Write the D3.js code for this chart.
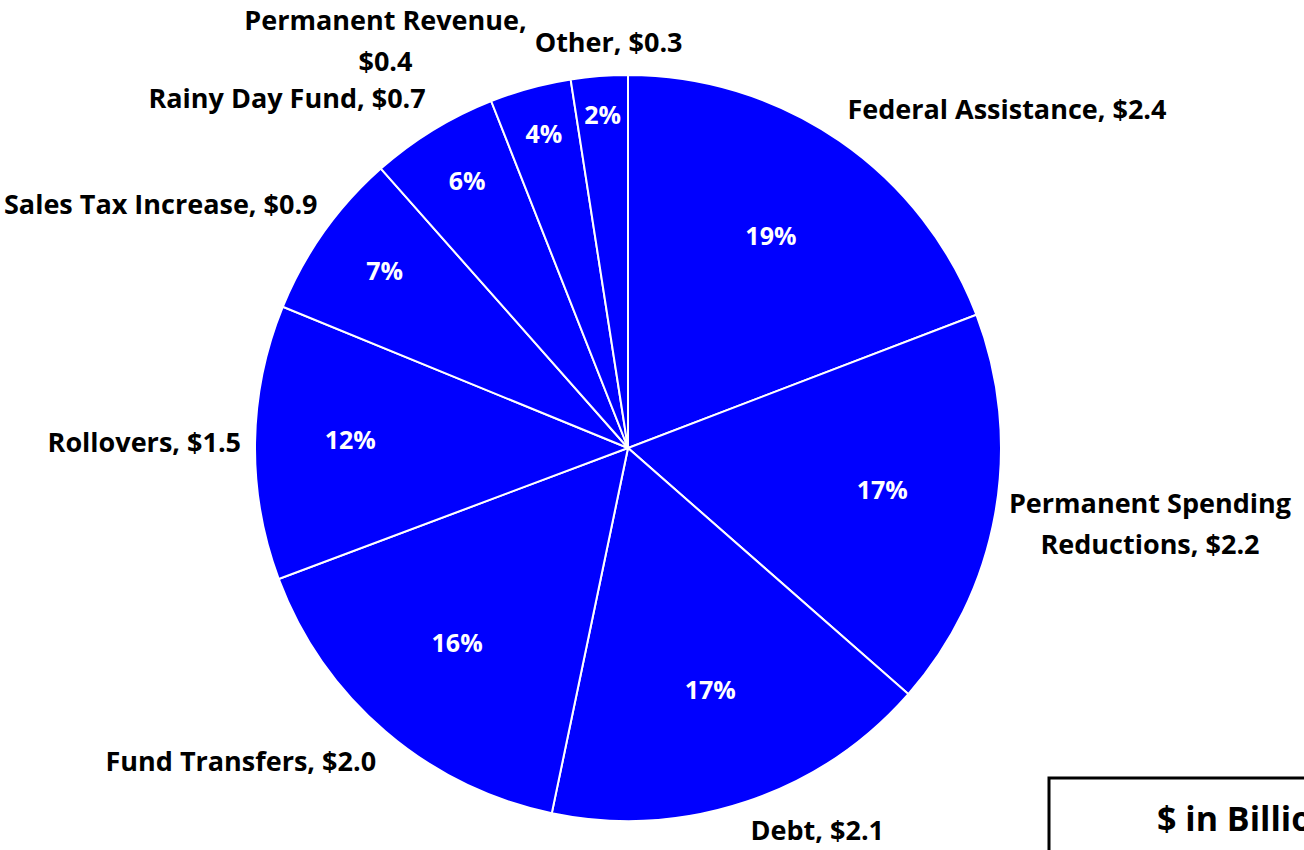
<!DOCTYPE html>
<html>
<head>
<meta charset="UTF-8">
<title>Budget gap solutions pie</title>
<script src="https://cdn.jsdelivr.net/npm/d3@7"></script>
<style>
    body { margin: 0; background: #fff; }
    svg text { font-family: "Open Sans", Lato, sans-serif; font-weight: bold; }
</style>
</head>
<body>
<script>
    // slices, clockwise from 12 o'clock
    var categories = ["Federal Assistance", "Permanent Spending\nReductions", "Debt", "Fund Transfers",
        "Rollovers", "Sales Tax Increase", "Rainy Day Fund", "Permanent Revenue,\n", "Other"];
    var values = [2.42, 2.18, 2.12, 2.02, 1.50, 0.92, 0.70, 0.444, 0.31];   // $ billions
    var unitNote = "$ in Billions";

    var width = 1304, height = 850;
    var cx = 628, cy = 448, radius = 373;

    var svg = d3.select("body").append("svg")
        .attr("width", width).attr("height", height);

    var total = d3.sum(values);
    var pie = d3.pie().sort(null).value(function (d) { return d; });
    var arcs = pie(values);

    var arc = d3.arc().innerRadius(0).outerRadius(radius);

    var g = svg.append("g").attr("transform", "translate(" + cx + "," + cy + ")");

    g.selectAll("path.slice")
        .data(arcs)
        .enter().append("path")
        .attr("class", "slice")
        .attr("d", arc)
        .attr("fill", "#0000ff")
        .attr("stroke", "#fff")
        .attr("stroke-width", 2);

    // percent labels: thinner slices get their label nearer the rim
    g.selectAll("text.pct")
        .data(arcs)
        .enter().append("text")
        .attr("class", "pct")
        .attr("text-anchor", "middle")
        .attr("dy", "0.2em")
        .attr("fill", "#fff")
        .style("font-size", "25px")
        .attr("transform", function (d) {
            var p = (d.endAngle - d.startAngle) / (2 * Math.PI);
            var rr = radius * Math.min(0.92, 1 - 0.74 * Math.sqrt(p));
            var a = (d.startAngle + d.endAngle) / 2;
            return "translate(" + rr * Math.sin(a) + "," + (-rr * Math.cos(a)) + ")";
        })
        .text(function (d) { return Math.round(d.value / total * 100) + "%"; });

    // category labels outside the rim
    var lineH = 41;
    var labels = g.selectAll("g.lab")
        .data(arcs)
        .enter().append("g")
        .attr("class", "lab");

    var boxes = [];
    labels.each(function (d, i) {
        var name = categories[i];
        var txt = name.indexOf("\n") === name.length - 1
            ? name + "$" + values[i].toFixed(1)
            : name + ", $" + values[i].toFixed(1);
        var lines = txt.split("\n");
        var t = d3.select(this).append("text")
            .attr("text-anchor", "middle")
            .style("font-size", "27px")
            .attr("fill", "#000");
        lines.forEach(function (l, k) {
            t.append("tspan").attr("x", 0).attr("y", k * lineH).text(l);
        });
        var bb = this.getBBox();
        var a = (d.startAngle + d.endAngle) / 2;
        var sa = Math.sin(a), ca = Math.cos(a);
        var rr = radius + 14;
        var px = rr * sa, py = -rr * ca;
        // snap the nearest side/corner of the label box to the point
        var bx = sa > 0.15 ? px : (sa < -0.15 ? px - bb.width : px - bb.width / 2);
        var by = ca > 0.25 ? py - bb.height - 2 : (ca < -0.25 ? py : py - bb.height / 2 - ca * 40);

        // don't sit on top of the previous label: slide along clockwise
        var prev = boxes[i - 1];
        if (prev && by < prev.y + prev.h && by + bb.height > prev.y &&
            bx < prev.x + prev.w && bx + bb.width > prev.x && ca > 0.9) {
            bx = prev.x + prev.w + 8;
        }

        // keep it inside the page
        bx = Math.max(bx, -cx + 4);
        bx = Math.min(bx, width - cx - bb.width - 2);
        by = Math.max(by, -cy + 1);
        by = Math.min(by, height - cy - bb.height - 2);
        boxes.push({ x: bx, y: by, w: bb.width, h: bb.height });
        d3.select(this).attr("transform", "translate(" + (bx - bb.x) + "," + (by - bb.y) + ")");
    });

    // unit note box, runs off the right edge like the source
    var note = svg.append("g");
    note.append("rect")
        .attr("x", 1049).attr("y", 778)
        .attr("width", 300).attr("height", 120)
        .attr("fill", "#fff").attr("stroke", "#000").attr("stroke-width", 3);
    note.append("text")
        .attr("x", 1157).attr("y", 831)
        .style("font-size", "34px")
        .attr("fill", "#000")
        .text(unitNote);
</script>
</body>
</html>
